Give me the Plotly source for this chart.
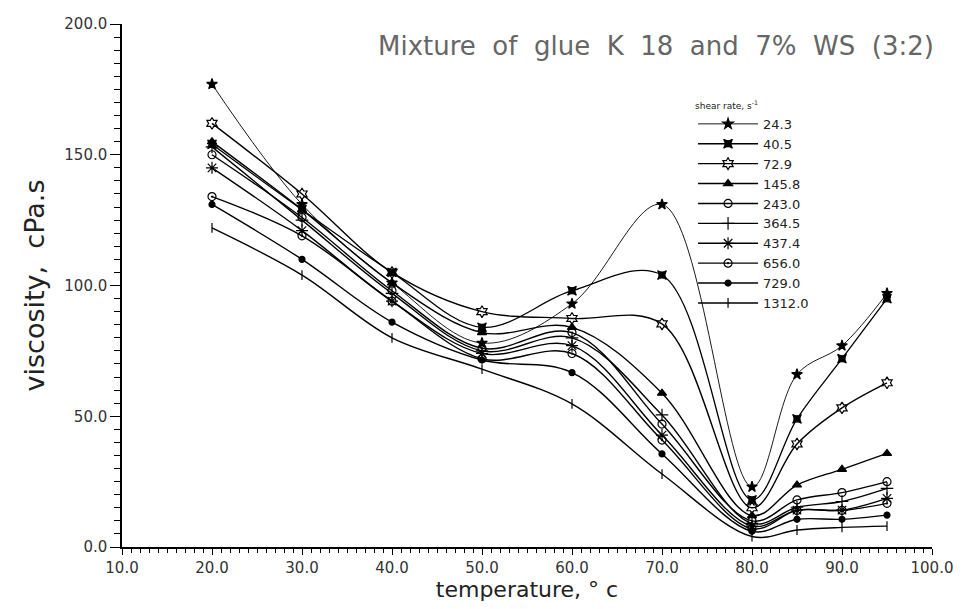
import plotly.graph_objects as go

temperature = [20, 30, 40, 50, 60, 70, 80, 85, 90, 95]

shear_rates = ["24.3", "40.5", "72.9", "145.8", "243.0", "364.5", "437.4", "656.0", "729.0", "1312.0"]

v_24_3 = [177, 131, 101, 78, 93, 131, 23, 66, 77, 97]
v_40_5 = [154, 129, 105, 84, 98, 104, 18, 49, 72, 95]
v_72_9 = [162, 135, 105, 90, 87.4, 85.3, 15, 39.4, 53.2, 62.8]
v_145_8 = [155, 129, 101, 82, 84, 58.8, 12, 23.7, 29.7, 35.8]
v_243_0 = [150, 126, 98, 76, 82, 47, 10, 18, 20.8, 25]
v_364_5 = [153, 125, 97, 75, 80, 50.5, 9, 15.2, 17.4, 22.4]
v_437_4 = [145, 121, 94, 74, 77, 42.8, 8, 14.1, 14.1, 18.6]
v_656_0 = [134, 119, 94, 72, 74, 40.9, 7, 14, 14, 16.7]
v_729_0 = [131, 110, 86, 71.5, 66.7, 35.6, 6, 10.6, 10.6, 12.2]
v_1312_0 = [122, 104, 80, 68, 54.7, 27.9, 4, 6.5, 7.5, 8]

series = [v_24_3, v_40_5, v_72_9, v_145_8, v_243_0, v_364_5, v_437_4, v_656_0, v_729_0, v_1312_0]
symbols = ["star", "star-square", "hexagram-open", "triangle-up", "circle-open",
           "cross-thin-open", "asterisk-open", "circle-open-dot", "circle", "line-ns-open"]
sizes = [8, 8, 9, 8, 8, 9, 10, 8, 6, 7]
widths = [0.9, 1.3, 1.4, 1.4, 1.4, 1.4, 1.4, 1.4, 1.4, 1.4]

x_ticks = [10, 20, 30, 40, 50, 60, 70, 80, 90, 100]
x_ticklabels = ["10.0", "20.0", "30.0", "40.0", "50.0", "60.0", "70.0", "80.0", "90.0", "100.0"]
y_ticks = [0, 50, 100, 150, 200]
y_ticklabels = ["0.0", "50.0", "100.0", "150.0", "200.0"]

fig = go.Figure()
for name, vals, sym, sz, w in zip(shear_rates, series, symbols, sizes, widths):
    fig.add_trace(go.Scatter(
        x=temperature, y=vals, name=name, mode="lines+markers",
        line=dict(color="black", width=w, shape="spline", smoothing=1.0),
        marker=dict(symbol=sym, size=sz, color="black",
                    line=dict(color="black", width=1.2)),
    ))

font_family = "DejaVu Sans, Liberation Sans, sans-serif"

fig.update_layout(
    width=965, height=609,
    margin=dict(l=122, r=23, t=24, b=62),
    paper_bgcolor="white", plot_bgcolor="white",
    font=dict(family=font_family, color="#222"),
    showlegend=True,
    legend=dict(
        x=0.705, y=0.86, xanchor="left", yanchor="top",
        bgcolor="rgba(0,0,0,0)",
        font=dict(size=13, color="#222", family=font_family),
        title=dict(text="shear rate, s<sup>-1</sup>", font=dict(size=9, color="#222")),
        itemwidth=60, tracegroupgap=0,
    ),
    annotations=[dict(
        text="Mixture  of  glue  K  18  and  7%  WS  (3:2)",
        xref="paper", yref="paper", x=1.005, y=0.958, xanchor="right", yanchor="middle",
        showarrow=False, font=dict(size=26, color="#666", family=font_family),
    )],
)

fig.update_xaxes(
    range=[10, 100], tickvals=x_ticks, ticktext=x_ticklabels,
    showgrid=False, zeroline=False, showline=True, linecolor="black", linewidth=2,
    ticks="outside", ticklen=6, tickwidth=1.2, tickcolor="black",
    tickfont=dict(size=15, color="#333"),
    minor=dict(dtick=1, ticks="outside", ticklen=4, tickcolor="black", tickwidth=1),
    title=dict(text="temperature, ° c", font=dict(size=22, color="#222"), standoff=0),
)
fig.update_yaxes(
    range=[0, 200], tickvals=y_ticks, ticktext=y_ticklabels,
    showgrid=False, zeroline=False, showline=True, linecolor="black", linewidth=1.5,
    ticks="outside", ticklen=10, tickwidth=1.2, tickcolor="black",
    tickfont=dict(size=15, color="#333"),
    minor=dict(dtick=5, ticks="outside", ticklen=6, tickcolor="black", tickwidth=1),
    title=dict(text="viscosity,  cPa.s", font=dict(size=27, color="#222"), standoff=12),
)

# remove the default page margin so the 965x609 figure fills the window exactly
fig.write_html(
    "out.html",
    config={"displayModeBar": False},
    post_script="document.body.style.margin='0';document.body.style.overflow='hidden';",
)
